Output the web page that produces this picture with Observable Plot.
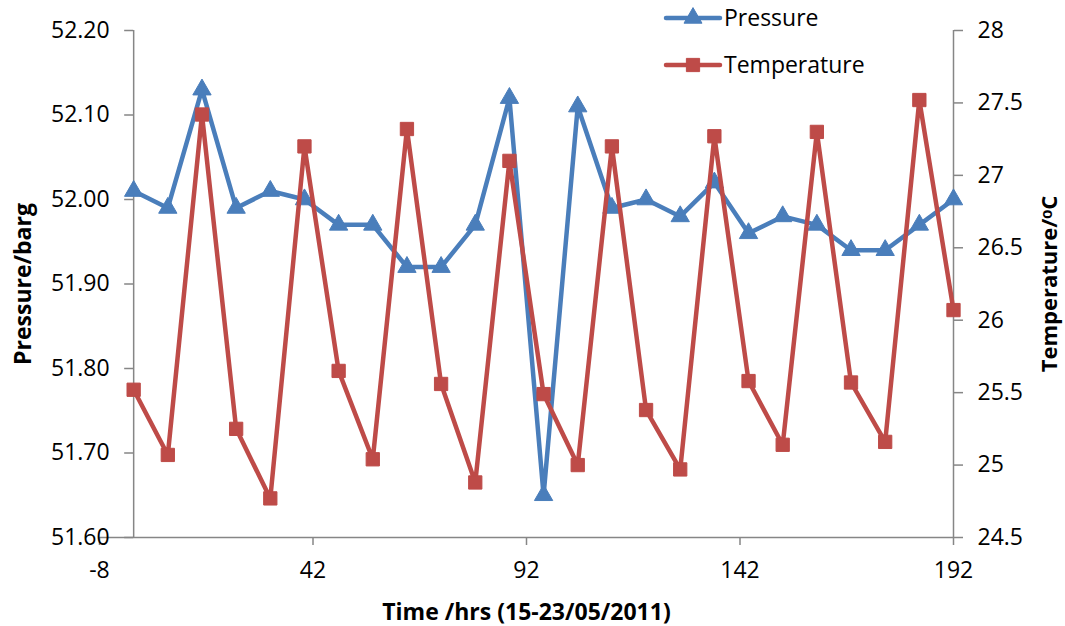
<!DOCTYPE html>
<html><head><meta charset="utf-8">
<script src="https://cdn.jsdelivr.net/npm/d3@7"></script>
<script src="https://cdn.jsdelivr.net/npm/@observablehq/plot@0.6"></script>
<style>
body{margin:0;background:#fff;}
#chart{position:relative;width:1065px;height:626px;font-family:"Open Sans",sans-serif;}
#legend{position:absolute;left:0;top:0;pointer-events:none;}
</style></head><body><div id="chart"></div>
<script>
const hours = [0,8,16,24,32,40,48,56,64,72,80,88,96,104,112,120,128,136,144,152,160,168,176,184,192];
const pressure = [52.01,51.99,52.13,51.99,52.01,52.00,51.97,51.97,51.92,51.92,51.97,52.12,51.65,52.11,51.99,52.00,51.98,52.02,51.96,51.98,51.97,51.94,51.94,51.97,52.00];
const temperature = [25.52,25.07,27.42,25.25,24.77,27.20,25.65,25.04,27.32,25.56,24.88,27.10,25.49,25.00,27.20,25.38,24.97,27.27,25.58,25.14,27.30,25.57,25.16,27.52,26.07];
const xTicks = [-8,42,92,142,192];
const pTicks = [51.6,51.7,51.8,51.9,52.0,52.1,52.2];
const tTicks = [24.5,25,25.5,26,26.5,27,27.5,28];
const seriesNames = ["Pressure","Temperature"];
const seriesColors = ["#4A7EBB","#BE4B48"];
const xTitle = "Time /hrs (15-23/05/2011)";
const yTitle = "Pressure/barg";
const y2Title = "Temperature/ᵒC";

const pDomain = [51.6, 52.2], tDomain = [24.5, 28];
const tToP = t => pDomain[0] + (t - tDomain[0]) * (pDomain[1] - pDomain[0]) / (tDomain[1] - tDomain[0]);
const pToT = p => tDomain[0] + (p - pDomain[0]) * (tDomain[1] - tDomain[0]) / (pDomain[1] - pDomain[0]);

const pData = hours.map((h, i) => ({h, v: pressure[i]}));
const tData = hours.map((h, i) => ({h, v: tToP(temperature[i])}));
const axisColor = "#868686";

const plot = Plot.plot({
  width: 1065, height: 626,
  marginLeft: 99, marginRight: 112, marginTop: 30, marginBottom: 89,
  style: {fontFamily: "'Open Sans', sans-serif", fontSize: "23px", background: "#fff", color: "#000"},
  x: {domain: [-8, 192]},
  y: {domain: pDomain},
  marks: [
    Plot.ruleY([pDomain[0]], {stroke: axisColor, strokeWidth: 1.5}),
    Plot.ruleX([0], {stroke: axisColor, strokeWidth: 1.5}),
    Plot.ruleX([192], {stroke: axisColor, strokeWidth: 1.5}),
    Plot.axisX({ticks: xTicks, tickSize: 8, tickPadding: 16, stroke: axisColor, strokeWidth: 1.5, tickFormat: d => String(d), label: null}),
    Plot.axisY({x: 0, ticks: pTicks, tickSize: 9, tickPadding: 15, stroke: axisColor, strokeWidth: 1.5, tickFormat: d => d.toFixed(2), label: null}),
    Plot.axisY({anchor: "right", ticks: tTicks.map(tToP), tickSize: 9, tickPadding: 15, stroke: axisColor, strokeWidth: 1.5, tickFormat: d => String(+pToT(d).toFixed(1)), label: null}),
    Plot.line(pData, {x: "h", y: "v", stroke: seriesColors[0], strokeWidth: 4.5}),
    Plot.dot(pData, {x: "h", y: "v", symbol: "triangle", r: 6.8, fill: seriesColors[0], stroke: seriesColors[0], strokeWidth: 1}),
    Plot.line(tData, {x: "h", y: "v", stroke: seriesColors[1], strokeWidth: 4.5}),
    Plot.dot(tData, {x: "h", y: "v", symbol: "square", r: 7.5, fill: seriesColors[1], stroke: seriesColors[1], strokeWidth: 1}),
    Plot.text([xTitle], {text: d => d, frameAnchor: "bottom", textAnchor: "middle", dy: 75, lineAnchor: "middle", fontWeight: "bold", fontSize: 23}),
    Plot.text([yTitle], {text: d => d, frameAnchor: "left", textAnchor: "middle", dx: -76, rotate: -90, lineAnchor: "middle", fontWeight: "bold", fontSize: 23}),
    Plot.text([y2Title], {text: d => d, frameAnchor: "right", textAnchor: "middle", dx: 96, rotate: -90, lineAnchor: "middle", fontWeight: "bold", fontSize: 22})
  ]
});
document.getElementById("chart").appendChild(plot);

// legend overlay
const leg = d3.select("#chart").append("svg").attr("id", "legend").attr("width", 1065).attr("height", 100);
const symbols = [d3.symbolTriangle, d3.symbolSquare];
const sizes = [140, 175];
seriesNames.forEach((name, i) => {
  const y = 18 + i * 47;
  const g = leg.append("g").attr("transform", `translate(0,${y})`);
  g.append("line").attr("x1", 666).attr("x2", 720).attr("y1", 0).attr("y2", 0)
    .attr("stroke", seriesColors[i]).attr("stroke-width", 4.5).attr("stroke-linecap", "round");
  g.append("path").attr("d", d3.symbol(symbols[i], sizes[i])()).attr("transform", "translate(693,0)")
    .attr("fill", seriesColors[i]).attr("stroke", seriesColors[i]);
  g.append("text").attr("x", 724).attr("y", 0).attr("dy", "0.35em").attr("font-size", 23)
    .attr("font-family", "'Open Sans', sans-serif").text(name);
});
</script></body></html>
